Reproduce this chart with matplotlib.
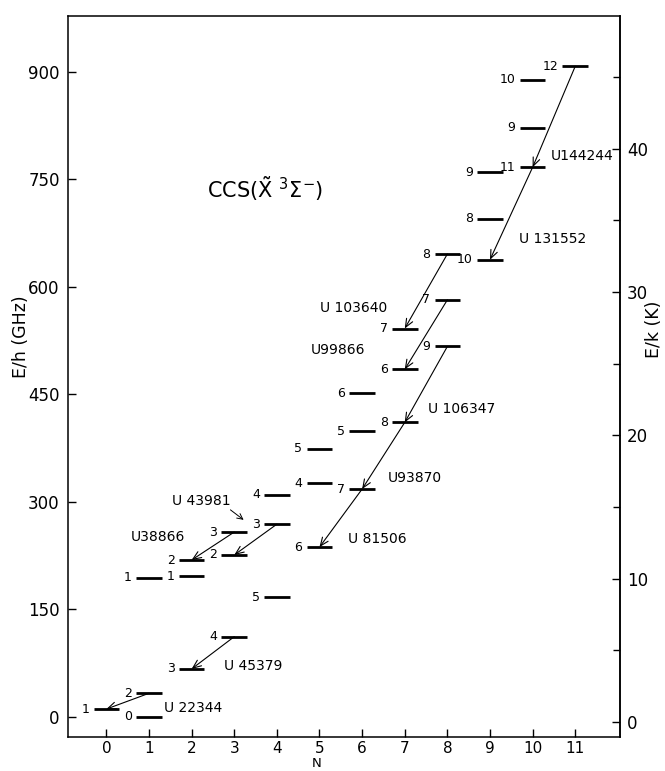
import numpy as np
import matplotlib
matplotlib.use("Agg")
import matplotlib.pyplot as plt

# rotational levels of CCS: N, J, energy E/h in GHz
level_N = [0, 1, 1, 1, 2, 2, 2, 3, 3, 3, 4, 4, 4, 5, 5, 5,
           6, 6, 6, 7, 7, 7, 8, 8, 8, 9, 9, 9, 10, 10, 10, 11]
level_J = [1, 0, 2, 1, 3, 1, 2, 4, 2, 3, 5, 3, 4, 6, 4, 5,
           7, 5, 6, 8, 6, 7, 9, 7, 8, 10, 8, 9, 11, 9, 10, 12]
level_E = [11, 0, 33, 194, 67, 196, 219, 112, 226, 258, 167, 269, 310, 237, 326, 374,
           318, 399, 452, 411, 485, 542, 517, 582, 646, 638, 695, 760, 767, 822, 889, 908]

# transitions (upper N,J -> lower N,J) and their names
trans_upper = [(1, 2), (3, 4), (3, 3), (4, 3), (6, 7), (7, 8), (8, 9),
               (8, 7), (8, 8), (10, 11), (11, 12)]
trans_lower = [(0, 1), (2, 3), (2, 2), (3, 2), (5, 6), (6, 7), (7, 8),
               (7, 6), (7, 7), (9, 10), (10, 11)]
trans_names = ["U 22344", "U 45379", "U38866", "U 43981", "U 81506", "U93870",
               "U 106347", "U99866", "U 103640", "U 131552", "U144244"]
# where each name is written (N, E)
name_pos = [(1.35, 12), (2.75, 71), (0.56, 251), (1.55, 301), (5.66, 249), (6.6, 333),
            (7.54, 430), (4.79, 512), (5.02, 571), (9.67, 667), (10.42, 783)]

left_ticks = [0, 150, 300, 450, 600, 750, 900]
right_ticks = [0, 10, 20, 30, 40]
right_minor = [5, 15, 25, 35, 45]
n_ticks = list(range(12))

energy = {(n, j): e for n, j, e in zip(level_N, level_J, level_E)}

fig = plt.figure(figsize=(6.65, 7.71), dpi=100)
ax = fig.add_axes([0.1023, 0.0441, 0.830, 0.935])

half = 0.3
ax.hlines(level_E, np.array(level_N) - half, np.array(level_N) + half,
          colors="black", lw=2)
for n, j, e in zip(level_N, level_J, level_E):
    ax.text(n - half - 0.1, e, str(j), ha="right", va="center", fontsize=9)

for up, lo, name, pos in zip(trans_upper, trans_lower, trans_names, name_pos):
    ax.annotate("", xy=(lo[0], energy[lo]), xytext=(up[0], energy[up]),
                arrowprops=dict(arrowstyle="->,head_length=0.6,head_width=0.25",
                                lw=0.8, color="black", shrinkA=0, shrinkB=0))
    ax.text(pos[0], pos[1], name, ha="left", va="center", fontsize=10)

# little pointer for U 43981
ax.annotate("", xy=(3.22, 275), xytext=(2.91, 289),
            arrowprops=dict(arrowstyle="->,head_length=0.4,head_width=0.2",
                            lw=0.7, color="black", shrinkA=0, shrinkB=0))

ax.text(3.73, 738, r"CCS$(\tilde{\mathrm{X}}\ {}^{3}\Sigma^{-})$",
        ha="center", va="center", fontsize=15)

ax.set_xlim(-0.9, 12.05)
ax.set_ylim(-28, 978)
ax.set_xticks(n_ticks)
ax.set_yticks(left_ticks)
ax.tick_params(axis="both", direction="in", length=6, width=1, labelsize=12)
ax.tick_params(axis="x", pad=3, labelsize=11)
ax.tick_params(axis="y", pad=6, right=False)
for s in ax.spines.values():
    s.set_linewidth(1.1)

ax.set_xlabel("N", fontsize=9.5)
ax.xaxis.set_label_coords(0.451, -0.0277)
ax.set_ylabel("E/h (GHz)", fontsize=12.5)
ax.yaxis.set_label_coords(-0.068, 0.555)

sec = ax.secondary_yaxis("right", functions=(lambda e: (e + 7) / 20.0,
                                             lambda k: k * 20.0 - 7))
sec.set_yticks(right_ticks)
sec.set_yticks(right_minor, minor=True)
sec.tick_params(axis="y", which="major", direction="in", length=6, width=1,
                labelsize=12, pad=5)
sec.tick_params(axis="y", which="minor", direction="in", length=5, width=1)
sec.spines["right"].set_linewidth(1.1)
sec.set_ylabel("E/k (K)", fontsize=12.5)
sec.yaxis.set_label_coords(1.045, 0.565, transform=ax.transAxes)

fig.savefig("out.png", dpi=100)
